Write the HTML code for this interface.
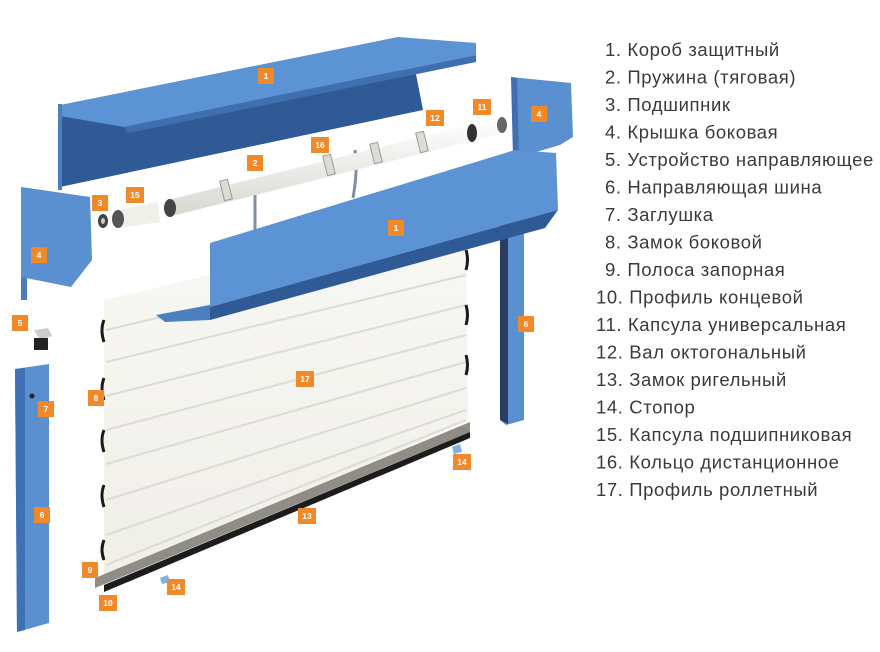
<!DOCTYPE html>
<html><head><meta charset="utf-8"><style>
html,body{margin:0;padding:0;background:#fff;width:880px;height:652px;overflow:hidden}
svg{display:block}
.t{font-family:"Liberation Sans",sans-serif;font-size:18.5px;letter-spacing:0.6px;fill:#3a3a3a}
.b{fill:#f0892a}
.l{font-family:"Liberation Sans",sans-serif;font-size:8.5px;font-weight:bold;fill:#fff;text-anchor:middle}
</style></head><body>
<svg width="880" height="652" viewBox="0 0 880 652">
<defs>
<linearGradient id="cur" x1="0" y1="0" x2="0" y2="1">
<stop offset="0" stop-color="#f8f8f4"/><stop offset="1" stop-color="#efeee9"/>
</linearGradient>
<linearGradient id="shaft" x1="0" y1="0" x2="0" y2="1">
<stop offset="0" stop-color="#ffffff"/><stop offset="1" stop-color="#d8d8d2"/>
</linearGradient>
</defs>

<polygon points="500,200 524,196 524,420 506,425 500,420" fill="#5a8fd0"/>
<polygon points="500,200 508,199 508,424 500,420" fill="#2a3e62"/>

<polygon points="104,300 466,215 468,420 104,585" fill="url(#cur)"/>
<g stroke="#dcdbd5" stroke-width="2" fill="none">
<path d="M106,330 L466,245"/><path d="M106,362 L466,275"/><path d="M106,396 L466,305"/>
<path d="M106,430 L466,335"/><path d="M106,464 L466,362"/><path d="M106,500 L466,388"/>
<path d="M106,535 L466,410"/><path d="M106,565 L466,420"/>
</g>
<g stroke="#1a1a1a" stroke-width="3" fill="none">
<path d="M104,320 q-4,10 0,22"/><path d="M104,378 q-4,10 0,22"/><path d="M104,430 q-4,10 0,22"/>
<path d="M104,485 q-4,10 0,22"/><path d="M104,540 q-4,10 0,20"/>
<path d="M466,250 q3,10 0,20"/><path d="M466,305 q3,10 0,20"/><path d="M466,355 q3,10 0,20"/>
</g>
<polygon points="95,578 470,422 470,432 95,588" fill="#8f8d86"/>
<polygon points="104,585 470,432 470,438 104,592" fill="#1c1c1c"/>
<polygon points="160,578 168,575 170,582 162,584" fill="#7fb0e0"/>
<polygon points="452,447 460,444 462,452 454,454" fill="#7fb0e0"/>

<polygon points="60,106 415,69 423,110 60,187" fill="#2f5a95"/>
<polygon points="60,105 398,37 476,43 476,55 124,127 60,116" fill="#5b93d4"/>
<polygon points="124,127 476,55 476,62 128,133" fill="#3f6fae"/>
<polygon points="58,104 62,104 62,190 58,190" fill="#4a7fc0"/>

<line x1="255" y1="180" x2="255" y2="232" stroke="#7c8ea8" stroke-width="3"/>
<path d="M355,150 q3,20 -2,48" stroke="#7c8ea8" stroke-width="3" fill="none"/>
<polygon points="168,200 500,117 504,133 172,216" fill="url(#shaft)"/>
<ellipse cx="170" cy="208" rx="6" ry="9" fill="#444"/>
<ellipse cx="502" cy="125" rx="5" ry="8" fill="#666"/>
<ellipse cx="472" cy="133" rx="5" ry="9" fill="#333"/>
<g fill="#dcdcd4" stroke="#999" stroke-width="1">
<rect x="222" y="180" width="8" height="20" transform="rotate(-14 226 190)"/>
<rect x="325" y="155" width="8" height="20" transform="rotate(-14 329 165)"/>
<rect x="372" y="143" width="8" height="20" transform="rotate(-14 376 153)"/>
<rect x="418" y="132" width="8" height="20" transform="rotate(-14 422 142)"/>
</g>
<polygon points="118,210 158,202 160,222 120,228" fill="#f0f0ea"/>
<ellipse cx="118" cy="219" rx="6" ry="9" fill="#555"/>
<ellipse cx="103" cy="221" rx="5" ry="7" fill="#444"/>
<ellipse cx="103" cy="221" rx="2" ry="3" fill="#ccc"/>

<polygon points="21,187 90,197 92,260 71,287 21,277" fill="#5a8fd0"/>
<polygon points="21,277 27,278 27,300 21,300" fill="#4a7fc0"/>

<polygon points="511,77 571,83 573,137 560,145 519,157" fill="#5a8fd0"/>
<polygon points="511,77 517,78 519,157 513,158" fill="#3f6fae"/>

<polygon points="210,243 515,150 556,153 558,210 210,307" fill="#5b93d4"/>
<polygon points="210,307 558,210 545,228 210,320" fill="#2f5a95"/>
<polygon points="156,315 210,305 210,320 165,322" fill="#4a7fc0"/>

<polygon points="34,330 48,328 52,336 40,340" fill="#ccc"/>
<rect x="34" y="338" width="14" height="12" fill="#222"/>

<polygon points="15,369 49,364 49,623 17,632" fill="#5a8fd0"/>
<polygon points="15,369 25,368 25,630 17,632" fill="#3f72b5"/>
<circle cx="32" cy="396" r="2.5" fill="#223"/>

<g>
<rect class="b" x="258" y="68" width="16" height="16"/><text class="l" x="266" y="79">1</text>
<rect class="b" x="388" y="220" width="16" height="16"/><text class="l" x="396" y="231">1</text>
<rect class="b" x="247" y="155" width="16" height="16"/><text class="l" x="255" y="166">2</text>
<rect class="b" x="311" y="137" width="18" height="16"/><text class="l" x="320" y="148">16</text>
<rect class="b" x="426" y="110" width="18" height="16"/><text class="l" x="435" y="121">12</text>
<rect class="b" x="473" y="99" width="18" height="16"/><text class="l" x="482" y="110">11</text>
<rect class="b" x="531" y="106" width="16" height="16"/><text class="l" x="539" y="117">4</text>
<rect class="b" x="126" y="187" width="18" height="16"/><text class="l" x="135" y="198">15</text>
<rect class="b" x="92" y="195" width="16" height="16"/><text class="l" x="100" y="206">3</text>
<rect class="b" x="31" y="247" width="16" height="16"/><text class="l" x="39" y="258">4</text>
<rect class="b" x="12" y="315" width="16" height="16"/><text class="l" x="20" y="326">5</text>
<rect class="b" x="38" y="401" width="16" height="16"/><text class="l" x="46" y="412">7</text>
<rect class="b" x="88" y="390" width="16" height="16"/><text class="l" x="96" y="401">8</text>
<rect class="b" x="296" y="371" width="18" height="16"/><text class="l" x="305" y="382">17</text>
<rect class="b" x="518" y="316" width="16" height="16"/><text class="l" x="526" y="327">6</text>
<rect class="b" x="453" y="454" width="18" height="16"/><text class="l" x="462" y="465">14</text>
<rect class="b" x="298" y="508" width="18" height="16"/><text class="l" x="307" y="519">13</text>
<rect class="b" x="34" y="507" width="16" height="16"/><text class="l" x="42" y="518">6</text>
<rect class="b" x="82" y="562" width="16" height="16"/><text class="l" x="90" y="573">9</text>
<rect class="b" x="167" y="579" width="18" height="16"/><text class="l" x="176" y="590">14</text>
<rect class="b" x="99" y="595" width="18" height="16"/><text class="l" x="108" y="606">10</text>
</g>

<g class="t">
<text x="605" y="56">1. Короб защитный</text>
<text x="605" y="83.5">2. Пружина (тяговая)</text>
<text x="605" y="111">3. Подшипник</text>
<text x="605" y="138.5">4. Крышка боковая</text>
<text x="605" y="166">5. Устройство направляющее</text>
<text x="605" y="193.5">6. Направляющая шина</text>
<text x="605" y="221">7. Заглушка</text>
<text x="605" y="248.5">8. Замок боковой</text>
<text x="605" y="276">9. Полоса запорная</text>
<text x="596" y="303.5">10. Профиль концевой</text>
<text x="596" y="331">11. Капсула универсальная</text>
<text x="596" y="358.5">12. Вал октогональный</text>
<text x="596" y="386">13. Замок ригельный</text>
<text x="596" y="413.5">14. Стопор</text>
<text x="596" y="441">15. Капсула подшипниковая</text>
<text x="596" y="468.5">16. Кольцо дистанционное</text>
<text x="596" y="496">17. Профиль роллетный</text>
</g>
</svg>
</body></html>
